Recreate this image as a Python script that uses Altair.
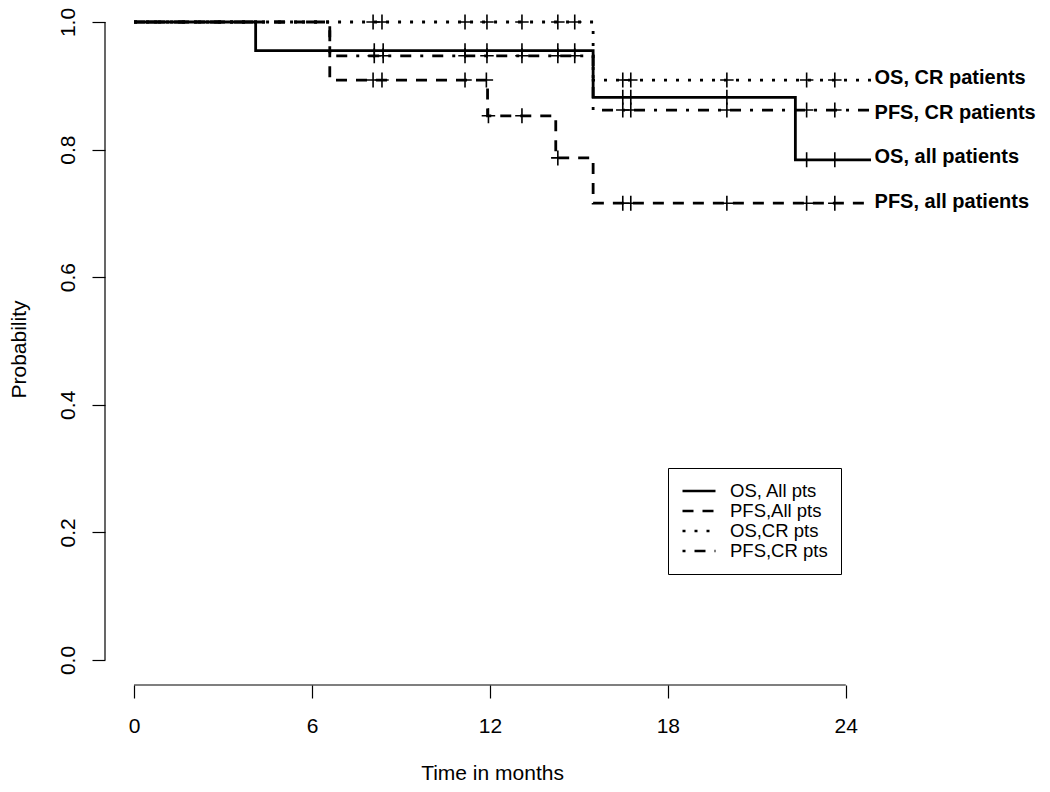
import altair as alt
import pandas as pd

# ---- Kaplan-Meier step curves (time in months, probability) ----
series_names = ["OS, All pts", "PFS,All pts", "OS,CR pts", "PFS,CR pts"]

os_all_t = [0, 4.1, 15.48, 22.3, 24.85]
os_all_s = [1.0, 0.955, 0.882, 0.784, 0.784]
pfs_all_t = [0, 6.6, 11.92, 14.22, 15.48, 24.85]
pfs_all_s = [1.0, 0.909, 0.853, 0.787, 0.716, 0.716]
os_cr_t = [0, 15.48, 24.85]
os_cr_s = [1.0, 0.909, 0.909]
pfs_cr_t = [0, 6.6, 15.48, 24.85]
pfs_cr_s = [1.0, 0.947, 0.862, 0.862]

# ---- censoring marks ----
os_all_ct = [8.1, 8.4, 11.16, 11.9, 13.08, 14.29, 14.86, 16.48, 16.75, 19.99, 22.68, 23.63]
os_all_cs = [0.955, 0.955, 0.955, 0.955, 0.955, 0.955, 0.955, 0.882, 0.882, 0.882, 0.784, 0.784]
pfs_all_ct = [8.06, 8.36, 11.16, 11.88, 11.95, 13.08, 14.29, 16.48, 16.75, 19.99, 22.68, 23.63]
pfs_all_cs = [0.909, 0.909, 0.909, 0.909, 0.853, 0.853, 0.787, 0.716, 0.716, 0.716, 0.716, 0.716]
os_cr_ct = [8.06, 8.36, 11.16, 11.9, 13.08, 14.29, 14.86, 16.48, 16.75, 19.99, 22.68, 23.63]
os_cr_cs = [1.0, 1.0, 1.0, 1.0, 1.0, 1.0, 1.0, 0.909, 0.909, 0.909, 0.909, 0.909]
pfs_cr_ct = [8.1, 8.4, 11.16, 11.9, 13.08, 14.29, 14.86, 16.48, 16.75, 19.99, 22.68, 23.63]
pfs_cr_cs = [0.947, 0.947, 0.947, 0.947, 0.947, 0.947, 0.947, 0.862, 0.862, 0.862, 0.862, 0.862]

# ---- direct labels on the right ----
label_texts = ["OS, CR patients", "PFS, CR patients", "OS, all patients", "PFS, all patients"]
label_y = [0.913, 0.857, 0.788, 0.718]
label_x = [24.97, 24.97, 24.97, 24.97]

x_ticks = [0, 6, 12, 18, 24]
y_ticks = [0.0, 0.2, 0.4, 0.6, 0.8, 1.0]

x_domain = [-0.98, 25.12]
y_domain = [-0.0392, 1.0141]

curve_t = [os_all_t, pfs_all_t, os_cr_t, pfs_cr_t]
curve_s = [os_all_s, pfs_all_s, os_cr_s, pfs_cr_s]
cens_t = [os_all_ct, pfs_all_ct, os_cr_ct, pfs_cr_ct]
cens_s = [os_all_cs, pfs_all_cs, os_cr_cs, pfs_cr_cs]

rows = []
for name, ts, ss in zip(series_names, curve_t, curve_s):
    for t, s in zip(ts, ss):
        rows.append({"series": name, "t": t, "s": s})
curves = pd.DataFrame(rows)

crow = []
for name, ts, ss in zip(series_names, cens_t, cens_s):
    for t, s in zip(ts, ss):
        crow.append({"series": name, "t": t, "s": s})
cens = pd.DataFrame(crow)

labels = pd.DataFrame({"text": label_texts, "t": label_x, "s": label_y})

FONT = "Liberation Sans"

xscale = alt.Scale(domain=x_domain, nice=False, zero=False)
yscale = alt.Scale(domain=y_domain, nice=False, zero=False)

xaxis = alt.Axis(values=x_ticks, domain=False, grid=False, tickColor="black",
                 tickSize=13, tickWidth=1.2, labelFont=FONT, labelFontSize=21,
                 labelColor="black", labelPadding=17, title="Time in months",
                 titleFont=FONT, titleFontSize=21, titleFontWeight="normal",
                 titleColor="black", titlePadding=26, format="d")
yaxis = alt.Axis(values=y_ticks, domain=False, grid=False, tickColor="black",
                 tickSize=13, tickWidth=1.2, labelFont=FONT, labelFontSize=21,
                 labelColor="black", labelAngle=-90, labelAlign="center",
                 labelBaseline="bottom", labelPadding=14, format=".1f",
                 title="Probability", titleFont=FONT, titleFontSize=21,
                 titleFontWeight="normal", titleColor="black", titlePadding=28)

dash_range = [[1, 0], [11, 9], [3, 9], [3, 9, 11, 9]]

lines = alt.Chart(curves).mark_line(interpolate="step-after", color="black",
                                    strokeWidth=2.8).encode(
    x=alt.X("t:Q", scale=xscale, axis=xaxis),
    y=alt.Y("s:Q", scale=yscale, axis=yaxis),
    strokeDash=alt.StrokeDash(
        "series:N",
        scale=alt.Scale(domain=series_names, range=dash_range),
        sort=series_names,
        legend=alt.Legend(orient="none", legendX=563, legendY=455, title=None,
                          strokeColor="black", fillColor="white", padding=13,
                          symbolType="stroke", symbolSize=1089,
                          symbolStrokeWidth=2.5, symbolStrokeColor="black",
                          clipHeight=20, rowPadding=0, labelFont=FONT,
                          labelFontSize=18.5, labelColor="black", labelOffset=13,
                          cornerRadius=0)),
    detail="series:N",
)

plus = "M-0.9,0L0.9,0M0,-1L0,1"
points = alt.Chart(cens).mark_point(shape=plus, filled=False, color="black",
                                    strokeWidth=1.6, size=225, opacity=1).encode(
    x=alt.X("t:Q", scale=xscale),
    y=alt.Y("s:Q", scale=yscale),
)

texts = alt.Chart(labels).mark_text(align="left", baseline="middle", font=FONT,
                                    fontSize=20, fontWeight="bold",
                                    color="black").encode(
    x=alt.X("t:Q", scale=xscale),
    y=alt.Y("s:Q", scale=yscale),
    text="text:N",
)

xrule_df = pd.DataFrame({"x": [min(x_ticks)], "x2": [max(x_ticks)], "y": [y_domain[0]]})
xrule = alt.Chart(xrule_df).mark_rule(color="black", strokeWidth=1.2).encode(
    x=alt.X("x:Q", scale=xscale), x2="x2:Q", y=alt.Y("y:Q", scale=yscale))

yrule_df = pd.DataFrame({"y": [min(y_ticks)], "y2": [max(y_ticks)], "x": [x_domain[0]]})
yrule = alt.Chart(yrule_df).mark_rule(color="black", strokeWidth=1.2).encode(
    y=alt.Y("y:Q", scale=yscale), y2="y2:Q", x=alt.X("x:Q", scale=xscale))

chart = alt.layer(lines, points, texts, xrule, yrule).properties(
    width=774, height=672,
    padding={"left": 97, "top": 5, "right": 163, "bottom": 99},
    autosize=alt.AutoSizeParams(type="none"),
    background="white",
).configure_view(stroke=None)

chart.save("out.html", embed_options={"renderer": "svg", "actions": False})
